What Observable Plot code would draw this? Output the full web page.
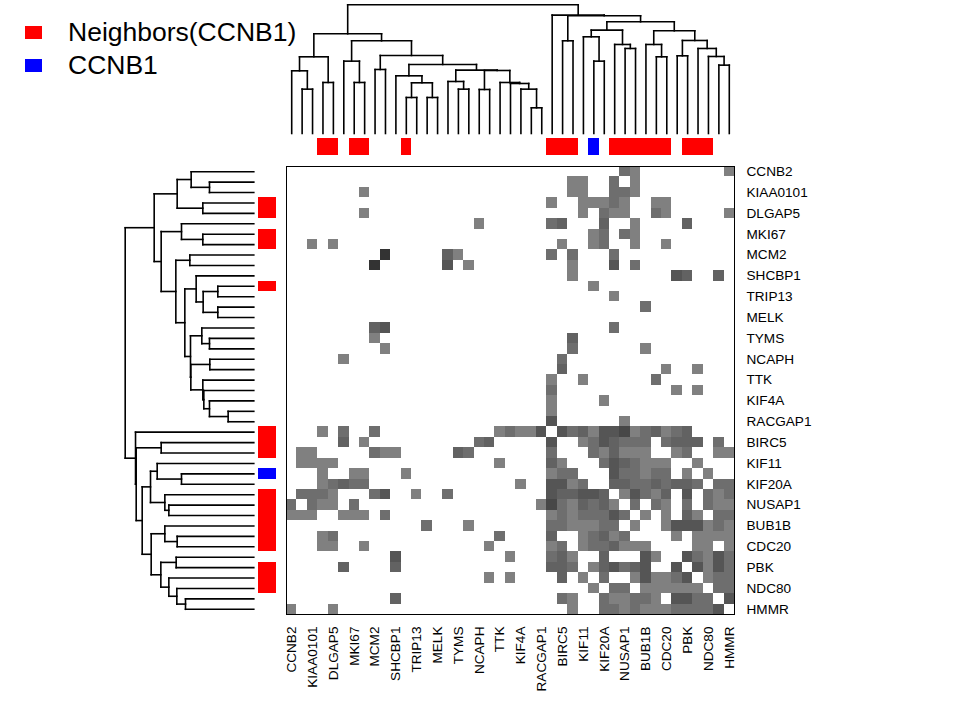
<!DOCTYPE html>
<html><head><meta charset="utf-8">
<script src="https://cdn.jsdelivr.net/npm/d3@7"></script>
<script src="https://cdn.jsdelivr.net/npm/@observablehq/plot@0.6"></script>
<style>
body{margin:0;background:#fff;}
#chart{position:relative;width:960px;height:720px;font-family:"Liberation Sans",Arial,Helvetica,sans-serif;background:#fff;}
#chart svg{position:absolute;left:0;top:0;}
#legend{position:absolute;left:25px;top:16.25px;}
.lrow{display:flex;align-items:center;height:32.5px;font-size:26.5px;line-height:1;color:#000;}
.lbox{width:17px;height:13px;margin-right:26px;}
</style></head><body><div id="chart"></div>
<script>
// ---- data ----
const N = 43;
// gene order (rows = columns); only every other label is printed
const geneLabels = ["CCNB2",null,"KIAA0101",null,"DLGAP5",null,"MKI67",null,"MCM2",null,
  "SHCBP1",null,"TRIP13",null,"MELK",null,"TYMS",null,"NCAPH",null,"TTK",null,"KIF4A",null,
  "RACGAP1",null,"BIRC5",null,"KIF11","CCNB1","KIF20A",null,"NUSAP1",null,"BUB1B",null,
  "CDC20",null,"PBK",null,"NDC80",null,"HMMR"];
const tickIdx = [0,2,4,6,8,10,12,14,16,18,20,22,24,26,28,30,32,34,36,38,40,42];
const neighborIdx = [3,4,6,7,11,25,26,27,31,32,33,34,35,36,38,39,40];
const queryIdx = [29];
const legendLabels = ["Neighbors(CCNB1)","CCNB1"];
const legendColors = ["#ff0000","#0000ff"];
// symmetric matrix, upper triangle: [row, col, level]
const edges = [
 [0,32,2],[0,33,1],[0,42,1],
 [1,27,1],[1,28,1],[1,31,2],[1,33,1],
 [2,7,1],[2,27,1],[2,28,1],[2,31,2],[2,32,2],[2,33,1],
 [3,25,1],[3,28,1],[3,29,1],[3,30,1],[3,31,2],[3,32,1],[3,35,1],[3,36,1],
 [4,7,1],[4,28,1],[4,30,2],[4,31,1],[4,32,1],[4,35,2],[4,36,1],[4,42,1],
 [5,18,1],[5,25,2],[5,26,3],[5,30,3],[5,33,1],[5,38,3],
 [6,29,1],[6,30,2],[6,32,2],[6,33,1],
 [7,26,1],[7,29,1],[7,30,2],[7,33,1],[7,36,1],
 [8,9,6],[8,15,3],[8,16,1],[8,25,2],[8,27,2],[8,31,2],
 [9,15,4],[9,17,1],[9,27,1],[9,31,4],[9,33,2],
 [10,27,1],[10,37,4],[10,38,3],[10,41,3],
 [11,29,1],[12,31,1],[13,34,2],[15,31,2],[16,27,3],
 [17,27,2],[17,34,1],[18,26,2],
 [19,26,3],[19,36,1],[19,39,1],
 [20,25,1],[20,28,1],[20,35,2],
 [21,25,2],[21,37,1],[21,39,1],
 [22,25,1],[22,30,1],[23,25,1],[24,25,4],[24,32,1],
 [25,26,4],[25,27,2],[25,28,3],[25,29,1],[25,30,4],[25,31,4],[25,32,5],[25,33,1],[25,34,2],[25,35,3],[25,36,1],[25,37,2],[25,38,3],
 [26,28,1],[26,29,2],[26,30,4],[26,31,3],[26,32,2],[26,33,2],[26,34,2],[26,36,2],[26,37,3],[26,38,3],[26,39,3],[26,41,2],
 [27,29,2],[27,30,1],[27,31,3],[27,32,1],[27,33,1],[27,34,1],[27,37,1],[27,38,2],[27,41,1],[27,42,1],
 [28,30,2],[28,31,4],[28,32,3],[28,33,2],[28,34,1],[28,35,1],[28,36,1],[28,39,1],
 [29,31,4],[29,32,2],[29,33,2],[29,34,1],[29,35,2],[29,36,2],[29,38,1],[29,40,1],
 [30,31,3],[30,32,3],[30,33,2],[30,34,2],[30,35,3],[30,36,2],[30,37,3],[30,38,3],[30,39,2],[30,41,2],[30,42,2],
 [31,32,1],[31,33,4],[31,34,2],[31,35,1],[31,36,3],[31,38,4],[31,40,2],[31,41,1],[31,42,2],
 [32,33,2],[32,35,2],[32,36,1],[32,38,2],[32,40,2],[32,41,1],[32,42,1],
 [33,34,1],[33,36,1],[33,38,3],[33,39,1],[33,41,2],[33,42,2],
 [34,36,1],[34,37,4],[34,38,4],[34,39,4],[34,40,1],[34,41,2],[34,42,1],
 [35,37,1],[35,39,1],[35,40,1],[35,41,1],[35,42,1],
 [36,39,1],[36,40,1],[36,42,1],
 [37,38,4],[37,39,2],[37,40,1],[37,41,4],[37,42,2],
 [38,39,4],[38,40,1],[38,41,4],[38,42,2],
 [39,40,1],[39,41,2],[39,42,2],
 [40,41,2],[40,42,2],
 [41,42,4]
];
const levels = [1,2,3,4,5,6];
const levelColors = ["#808080","#6e6e6e","#626262","#555555","#474747","#333333"];
// dendrogram (same for rows and columns): [left, right, height]
const clusterA = [
  [[0,[1,2,133],188],[3,4,153],230],
  [[5,[6,7,153],217],
   [[8,9,192],
    [[10,[[11,12,108],[13,14,108],152],173],
     [[15,[16,17,133],156],
      [[18,19,132],[20,[21,[22,[23,24,77],133],150],153],189],
     190],
    207],
   234],
  278],
 299];
const clusterB = [25,
  [[26,27,278],
   [[[28,[29,30,217],290],[31,[32,33,255],267],310],
    [[34,[35,36,230],267],[[37,38,233],[39,[40,[41,42,205],231],255],279],308],
   335],
  353],
 355];
const tree = [clusterA, clusterB, 386];

// ---- derived tables ----
const idx = d3.range(N);
const cells = edges.flatMap(([i,j,v]) => [{row:i,col:j,v},{row:j,col:i,v}]);
const bars = [
  ...neighborIdx.map(i => ({i, type: legendLabels[0], s:"bar"})),
  ...queryIdx.map(i => ({i, type: legendLabels[1], s:"bar"}))
];
const segs = [];
function walk(node){
  if (typeof node === "number") return {pos: node, h: 0};
  const a = walk(node[0]), b = walk(node[1]), h = node[2];
  segs.push({p1:a.pos,h1:a.h,p2:a.pos,h2:h});
  segs.push({p1:b.pos,h1:b.h,p2:b.pos,h2:h});
  segs.push({p1:a.pos,h1:h,p2:b.pos,h2:h});
  return {pos:(a.pos+b.pos)/2, h};
}
const root = walk(tree);

// ---- layout ----
const W = 960, H = 720;
const HX0 = 286, HX1 = 734, HY0 = 166, HY1 = 614;
const svgStyle = {background:"transparent", fontFamily:"Liberation Sans, Arial, Helvetica, sans-serif", overflow:"visible"};
const chart = document.getElementById("chart");
const barColor = {domain: legendLabels, range: legendColors};
const lineStyle = {stroke:"black", strokeWidth:1.6, strokeLinecap:"square"};
const band = d => ({type:"band", domain:d, padding:0, round:false, label:null});

// heatmap with labels
chart.append(Plot.plot({
  width:W, height:H, style:svgStyle,
  marginLeft:HX0, marginRight:W-HX1, marginTop:HY0, marginBottom:H-HY1,
  x:band(idx), y:band(idx),
  color:{type:"ordinal", domain:levels, range:levelColors},
  marks:[
    Plot.cell(cells, {x:"col", y:"row", fill:"v", inset:0, shapeRendering:"crispEdges"}),
    Plot.frame({stroke:"black", strokeWidth:1}),
    Plot.axisX({anchor:"bottom", ticks:tickIdx, tickSize:0, tickPadding:12, tickRotate:-90,
      tickFormat:i => geneLabels[i], fontSize:13.6, label:null}),
    Plot.axisY({anchor:"right", ticks:tickIdx, tickSize:0, tickPadding:12,
      tickFormat:i => geneLabels[i], fontSize:13.6, label:null})
  ]
}));

// top dendrogram
chart.append(Plot.plot({
  width:W, height:H, style:svgStyle, axis:null,
  marginLeft:HX0, marginRight:W-HX1, marginTop:4.3, marginBottom:H-133,
  x:{domain:[-0.5, N-0.5]}, y:{domain:[0, root.h]},
  marks:[Plot.link(segs, {x1:"p1", y1:"h1", x2:"p2", y2:"h2", ...lineStyle})]
}));

// left dendrogram
chart.append(Plot.plot({
  width:W, height:H, style:svgStyle, axis:null,
  marginLeft:124.7, marginRight:W-253.3, marginTop:HY0, marginBottom:H-HY1,
  x:{domain:[root.h, 0]}, y:{domain:[-0.5, N-0.5], reverse:true},
  marks:[Plot.link(segs, {x1:"h1", y1:"p1", x2:"h2", y2:"p2", ...lineStyle})]
}));

// top side bar
chart.append(Plot.plot({
  width:W, height:H, style:svgStyle, axis:null,
  marginLeft:HX0, marginRight:W-HX1, marginTop:138.3, marginBottom:H-155,
  x:band(idx), y:band(["bar"]),
  color:barColor,
  marks:[Plot.cell(bars, {x:"i", y:"s", fill:"type", inset:0, shapeRendering:"crispEdges"})]
}));

// left side bar
chart.append(Plot.plot({
  width:W, height:H, style:svgStyle, axis:null,
  marginLeft:258.3, marginRight:W-275.7, marginTop:HY0, marginBottom:H-HY1,
  x:band(["bar"]), y:band(idx),
  color:barColor,
  marks:[Plot.cell(bars, {x:"s", y:"i", fill:"type", inset:0, shapeRendering:"crispEdges"})]
}));

// legend
const leg = document.createElement("div");
leg.id = "legend";
legendLabels.forEach((t, k) => {
  const row = document.createElement("div"); row.className = "lrow";
  const box = document.createElement("div"); box.className = "lbox"; box.style.background = legendColors[k];
  const txt = document.createElement("span"); txt.textContent = t;
  row.append(box, txt); leg.append(row);
});
chart.append(leg);
</script></body></html>
